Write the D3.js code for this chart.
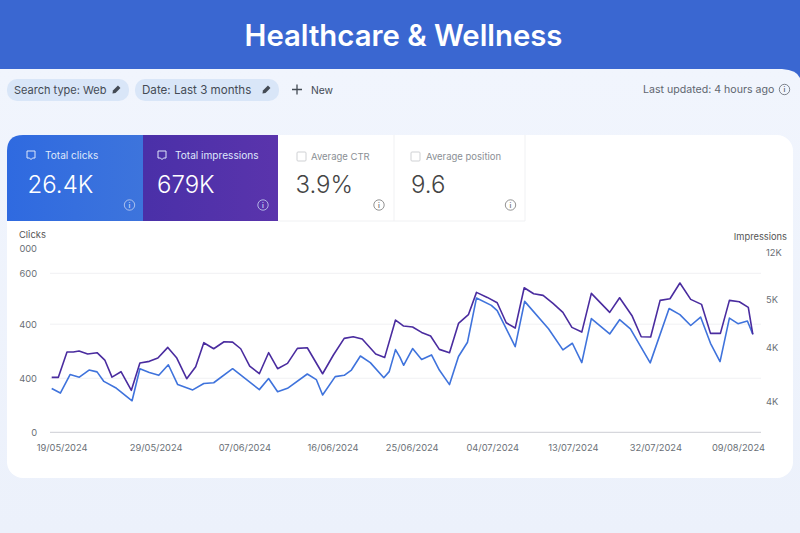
<!DOCTYPE html>
<html><head><meta charset="utf-8">
<script src="https://cdnjs.cloudflare.com/ajax/libs/d3/7.8.5/d3.min.js"></script>
<style>
html,body{margin:0;padding:0;background:#eef3fc;overflow:hidden}
svg{display:block;font-family:Inter,"Noto Sans",sans-serif}
.domain{display:none}
</style></head><body>
<svg id="c" width="800" height="533"></svg>
<script>
const chartTitle = "Healthcare & Wellness";
const clickDays = [0,0.96,2.04,3.07,4.15,5.04,5.8,7.2,8.93,9.8,10.85,11.9,12.96,14,15.67,16.9,18,20.1,23.07,24.1,25.1,26.2,28.4,29.4,30.1,31.5,32.5,33.3,34.3,35.4,36.9,37.5,38.2,38.7,39.1,40.1,41.1,42.2,43.07,44.2,45.2,46.2,47.2,48.85,49.5,51.5,52.55,55.2,56.8,57.85,58.9,59.96,62,63.1,64.3,66.5,68.6,69.8,71,72.1,73.2,74.26,75.3,76.25,77.3,77.9];
const clicks = [165,148,218,208,235,228,192,166,119,240,226,215,255,180,160,184,187,240,161,203,153,166,220,199,141,210,215,235,288,263,206,229,312,283,253,316,275,292,235,180,286,340,507,479,459,323,494,391,311,336,263,429,371,425,390,262,467,444,403,435,336,267,431,410,420,370];
const impressionDays = [0,0.74,1.7,2.4,3.04,4,5.04,5.9,6.7,7.7,8.85,9.8,10.85,11.8,12.9,13.9,15,16,16.9,18,19.15,20.1,21,22,23.07,24.1,25.1,26.2,27.3,28.4,30.1,31.3,32.5,33.5,34.5,36,37,38.2,38.7,39.1,40.1,41.1,42.1,43.07,44.2,45.2,46.3,47.2,48.4,49.5,50.5,51.5,52.5,53.55,54.6,55.7,56.8,57.8,58.9,59.96,62,63.1,64.5,65.5,66.55,67.6,68.7,69.8,71,72.2,73.2,74.3,75.3,76.4,77.4,77.9];
const impressions = [3962,3962,4334,4334,4348,4304,4324,4216,3966,4045,3771,4172,4197,4245,4402,4245,3942,4118,4471,4382,4485,4480,4382,4128,4015,4324,4089,4167,4387,4397,4015,4290,4534,4559,4524,4304,4255,4804,4754,4715,4701,4622,4569,4373,4324,4754,4882,5210,5136,5058,4764,4686,5278,5190,5166,5048,4916,4696,4627,5195,4916,5131,4862,4559,4554,5092,5117,5347,5107,5034,4608,4608,5092,5073,4989,4593];
const dateTickDays = [1.1,11.55,21.4,31.2,40,48.95,57.9,67.07,76.25];
const dateLabels = ["19/05/2024","29/05/2024","07/06/2024","16/06/2024","25/06/2024","04/07/2024","13/07/2024","32/07/2024","09/08/2024"];
const leftTickValues = [0,204,408,600,692];
const leftTickLabels = ["0","400","400","600","000"];
const rightTickValues = [3600,4400,5100,5800];
const rightTickLabels = ["4K","4K","5K","12K"];
const filters = ["Search type: Web","Date: Last 3 months"];
const metricNames = ["Total clicks","Total impressions","Average CTR","Average position"];
const metricValues = ["26.4K","679K","3.9%","9.6"];

const svg = d3.select("#c");
const defs = svg.append("defs");
function grad(id,stops,x2,y2){const g=defs.append("linearGradient").attr("id",id).attr("x1",0).attr("y1",0).attr("x2",x2).attr("y2",y2);
  stops.forEach((s,i)=>g.append("stop").attr("offset",i/(stops.length-1)).attr("stop-color",s));}
grad("hdr",["#3b6ad6","#3a66cf"],1,0);
grad("page",["#f1f5fd","#ecf1fb"],0,1);
grad("blue",["#2f6ae0","#3d74dc"],1,0);
grad("purple",["#4a30a8","#5a34ac"],1,0);

svg.append("rect").attr("width",800).attr("height",533).attr("fill","#3a67d1");
svg.append("path").attr("d","M0,69 H782 Q797,70 800,78 V533 H0 Z").attr("fill","url(#page)");
svg.append("text").attr("x",403.5).attr("y",46).attr("text-anchor","middle").attr("fill","#fff")
  .attr("font-size",29.3).attr("font-weight",600).text(chartTitle);

// filter chips
const chipX=[7,135], chipW=[122,144], chipText=[14,142], penX=[116,266], chipFont=[11,11.6];
filters.forEach((f,i)=>{
  svg.append("rect").attr("x",chipX[i]).attr("y",79).attr("width",chipW[i]).attr("height",22).attr("rx",10).attr("fill","#d9e6f8");
  svg.append("text").attr("x",chipText[i]).attr("y",94).attr("font-size",chipFont[i]).attr("fill","#444b55").text(f);
  svg.append("path").attr("transform",`translate(${penX[i]},90) rotate(45)`).attr("d","M-1.8,-4.5 H1.8 V2.5 L0,5 L-1.8,2.5 Z").attr("fill","#444b55");
});
svg.append("path").attr("d","M292,89.5 H302 M297,84.5 V94.5").attr("stroke","#444b55").attr("stroke-width",1.3);
svg.append("text").attr("x",311).attr("y",94).attr("font-size",10.3).attr("fill","#444b55").text("New");
svg.append("text").attr("x",643).attr("y",93).attr("font-size",10.6).attr("fill","#5f6670").text("Last updated: 4 hours ago");
info(784.5,89.5,"#5f6670");

function info(cx,cy,col){
  svg.append("circle").attr("cx",cx).attr("cy",cy).attr("r",5.2).attr("fill","none").attr("stroke",col).attr("stroke-width",.8);
  svg.append("text").attr("x",cx).attr("y",cy+2.6).attr("text-anchor","middle").attr("font-size",7).attr("font-weight",600).attr("fill",col).text("i");
}

// main card
svg.append("rect").attr("x",7).attr("y",135).attr("width",786).attr("height",343).attr("rx",16).attr("fill","#fff");
svg.append("path").attr("d","M7,221 V151 Q7,135 23,135 H143 V221 Z").attr("fill","url(#blue)");
svg.append("rect").attr("x",143).attr("y",135).attr("width",135).attr("height",86).attr("fill","url(#purple)");
svg.append("path").attr("d","M394,135 V221 M525,135 V221 M278,221 H525").attr("stroke","#f0f1f3").attr("fill","none");

const mLabelX=[45,175,311,426], mValueX=[27.5,157,295.5,411], mIconX=[31,162,301.5,415.5], mInfoX=[129.5,263,379,510.5];
metricNames.forEach((n,i)=>{
  const on=i<2, light="#dfe8fb";
  svg.append("text").attr("x",mLabelX[i]).attr("y",on?159:160).attr("font-size",on?10.1:9.5).attr("fill",on?light:"#8b8f95").text(n);
  svg.append("text").attr("x",mValueX[i]).attr("y",193).attr("font-size",24).attr("font-weight",300).attr("fill",on?"#fff":"#444").text(metricValues[i]);
  if(on){
    svg.append("path").attr("d",`M${mIconX[i]-4},${151} h8 v7 h-2.5 l-1.5,1.6 l-1.5,-1.6 h-2.5 Z`).attr("fill","none").attr("stroke",light).attr("stroke-width",1);
  } else {
    svg.append("rect").attr("x",mIconX[i]-4.5).attr("y",152).attr("width",9).attr("height",9).attr("rx",1).attr("fill","#fff").attr("stroke","#cfd1d4");
  }
  info(mInfoX[i],205,on?"#c6d3f3":"#777");
});

// chart
const x=d3.scaleLinear().domain([0,78]).range([51.7,753.7]);
const yL=d3.scaleLinear().domain([0,600]).range([432.3,273.3]);
const yR=d3.scaleLinear().domain([3600,5800]).range([402,252.2]);

svg.append("g").selectAll("line").data(leftTickValues.slice(1,4)).join("line")
  .attr("x1",50).attr("x2",761).attr("y1",d=>yL(d)).attr("y2",d=>yL(d)).attr("stroke","#f0f1f3");
svg.append("line").attr("x1",50).attr("x2",761).attr("y1",yL(0)).attr("y2",yL(0)).attr("stroke","#ccced4");

function styleAxis(g){g.selectAll(".tick line").remove();g.selectAll("text").attr("font-family","Inter,sans-serif").attr("font-size",9.3).attr("fill","#6a6f76");}
svg.append("g").attr("transform","translate(37,0)")
  .call(d3.axisLeft(yL).tickValues(leftTickValues).tickSize(0).tickPadding(0).tickFormat(d=>leftTickLabels[leftTickValues.indexOf(d)])).call(styleAxis);
svg.append("g").attr("transform","translate(766,0)")
  .call(d3.axisRight(yR).tickValues(rightTickValues).tickSize(0).tickPadding(0).tickFormat(d=>rightTickLabels[rightTickValues.indexOf(d)])).call(styleAxis);
svg.append("g").attr("transform","translate(0,444)")
  .call(d3.axisBottom(x).tickValues(dateTickDays).tickSize(0).tickPadding(0).tickFormat(d=>dateLabels[dateTickDays.indexOf(d)])).call(styleAxis);
svg.append("text").attr("x",19).attr("y",238).attr("font-size",9.4).attr("fill","#555").text("Clicks");
svg.append("text").attr("x",787).attr("y",240).attr("text-anchor","end").attr("font-size",9.3).attr("fill","#555").text("Impressions");

const lineL=d3.line().x(d=>x(d[0])).y(d=>yL(d[1]));
const lineR=d3.line().x(d=>x(d[0])).y(d=>yR(d[1]));
svg.append("path").attr("d",lineL(d3.zip(clickDays,clicks))).attr("fill","none").attr("stroke","#3f73dc").attr("stroke-width",1.6).attr("stroke-linejoin","round");
svg.append("path").attr("d",lineR(d3.zip(impressionDays,impressions))).attr("fill","none").attr("stroke","#4a2c9f").attr("stroke-width",1.6).attr("stroke-linejoin","round");
</script></body></html>
